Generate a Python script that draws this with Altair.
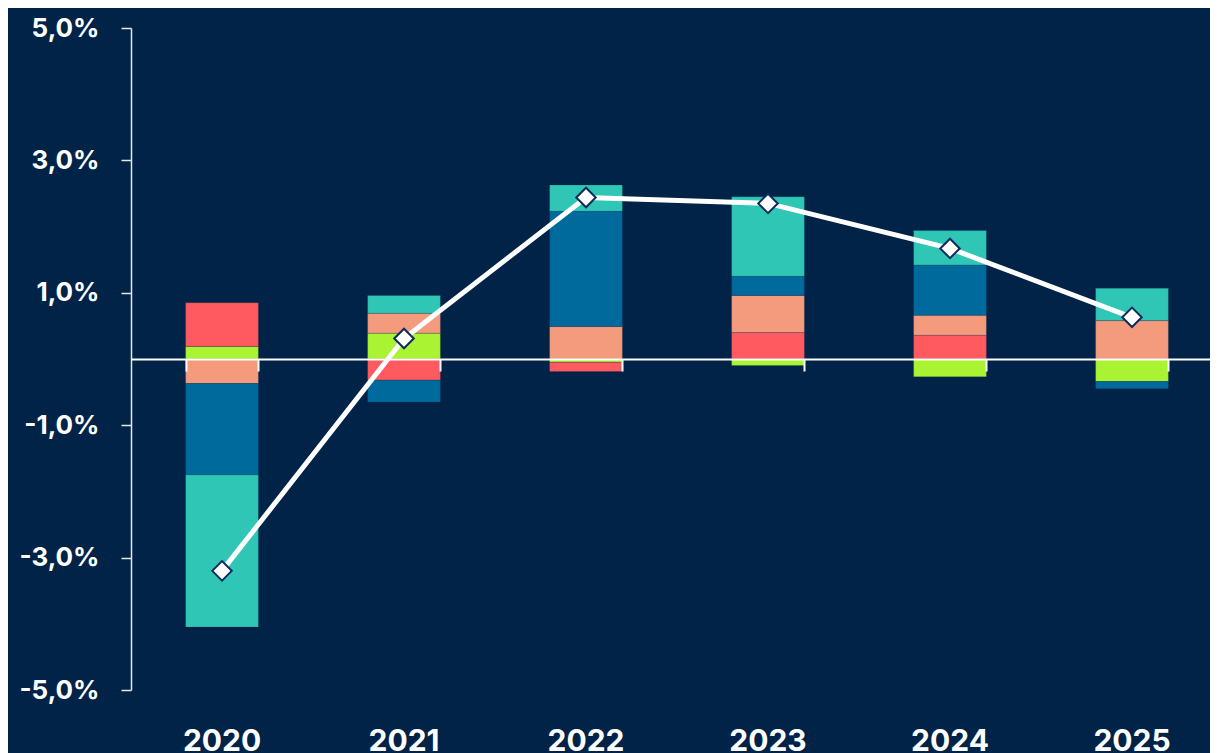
import altair as alt
import pandas as pd

years = ["2020", "2021", "2022", "2023", "2024", "2025"]
series = ["Serie 1", "Serie 2", "Serie 3", "Serie 4", "Serie 5"]
colors = ["#a9f332", "#ff5a5f", "#f49b7e", "#006a9d", "#2fc6b6"]

s1 = [0.19, 0.39, -0.05, -0.10, -0.27, -0.34]
s2 = [0.66, -0.32, -0.14, 0.40, 0.36, 0.00]
s3 = [-0.37, 0.30, 0.49, 0.56, 0.30, 0.58]
s4 = [-1.38, -0.33, 1.74, 0.29, 0.76, -0.11]
s5 = [-2.30, 0.27, 0.40, 1.20, 0.52, 0.49]
total = [-3.20, 0.31, 2.44, 2.35, 1.67, 0.63]

y_ticks = [-5, -3, -1, 1, 3, 5]

BG = "#002347"
FONT = "Inter"

rows = []
for k, (name, vals) in enumerate(zip(series, [s1, s2, s3, s4, s5])):
    for yr, v in zip(years, vals):
        rows.append({"year": yr, "series": name, "value": v, "idx": k})
bars_df = pd.DataFrame(rows)
line_df = pd.DataFrame({"year": years, "total": total})

xscale = alt.Scale(domain=years, paddingInner=0.6, paddingOuter=0.3, range=[0, 1092])
yscale = alt.Scale(domain=[-5, 5], nice=False)

yaxis = alt.Axis(
    title=None,
    values=y_ticks,
    grid=False,
    labelExpr="(datum.value < 0 ? '-' : '') + replace(format(abs(datum.value), '.1f'), '.', ',') + '%'",
    labelFont=FONT,
    labelFontSize=26,
    labelFontWeight="bold",
    labelColor="white",
    labelPadding=22,
    domainColor="#e8e8e8",
    domainWidth=1.5,
    tickColor="#e8e8e8",
    tickWidth=1.5,
    tickSize=10,
)

bars = alt.Chart(bars_df).mark_bar(stroke="#0b2a4f", strokeWidth=0.6, strokeOpacity=0.35).encode(
    x=alt.X(
        "year:N",
        scale=xscale,
        sort=years,
        axis=alt.Axis(
            title=None,
            domain=False,
            ticks=False,
            tickSize=0,
            grid=False,
            labelAngle=0,
            labelFont=FONT,
            labelFontSize=30,
            labelFontWeight="bold",
            labelColor="white",
            labelBaseline="alphabetic",
            labelPadding=60,
        ),
    ),
    y=alt.Y("value:Q", stack="zero", scale=yscale, axis=yaxis),
    color=alt.Color("series:N", scale=alt.Scale(domain=series, range=colors), legend=None),
    order=alt.Order("idx:Q"),
)

line = alt.Chart(line_df).mark_line(color="white", strokeWidth=5).encode(
    x=alt.X(
        "year:N",
        scale=xscale,
        sort=years,
        axis=alt.Axis(
            title=None,
            orient="bottom",
            offset=-331,
            labels=False,
            grid=False,
            domain=True,
            domainColor="white",
            domainWidth=2,
            ticks=True,
            tickColor="white",
            tickWidth=2,
            tickSize=12,
            tickBand="extent",
            zindex=1,
        ),
    ),
    y=alt.Y("total:Q", scale=yscale, axis=yaxis),
)

points = alt.Chart(line_df).mark_point(
    shape="diamond", filled=True, fill="white", stroke="#0b2a5e", strokeWidth=2, size=380, opacity=1
).encode(
    x=alt.X("year:N", scale=xscale, sort=years, axis=None),
    y=alt.Y("total:Q", scale=yscale, axis=yaxis),
)

chart = (
    alt.layer(bars, line, points)
    .resolve_axis(x="independent")
    .properties(
        width=1079,
        height=662,
        background=BG,
        autosize=alt.AutoSizeParams(type="none"),
        padding={"left": 123, "top": 20, "right": 0, "bottom": 63},
    )
    .configure_view(stroke=None)
)

chart.save("out.html", embed_options={"renderer": "svg", "actions": False})
